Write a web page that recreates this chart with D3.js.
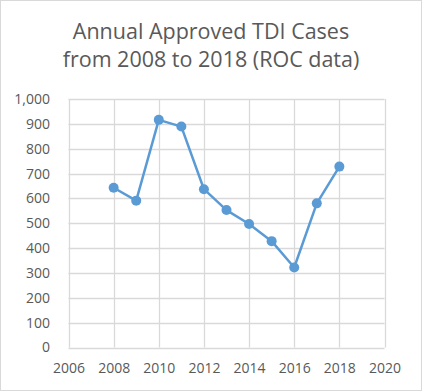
<!DOCTYPE html>
<html><head><meta charset="utf-8">
<script src="https://cdn.jsdelivr.net/npm/d3@7"></script>
<style>html,body{margin:0;padding:0;background:#fff}</style>
</head><body>
<script>
const years = [2008,2009,2010,2011,2012,2013,2014,2015,2016,2017,2018];
const cases = [643,591,916,889,637,553,497,428,322,580,728];
const xTicks = [2006,2008,2010,2012,2014,2016,2018,2020];
const yTicks = [0,100,200,300,400,500,600,700,800,900,1000];
const titleLines = ["Annual Approved TDI Cases","from 2008 to 2018 (ROC data)"];

const W=422,H=391;
const svg=d3.select("body").append("svg").attr("width",W).attr("height",H);
svg.append("rect").attr("x",0.5).attr("y",0.5).attr("width",W-1).attr("height",H-1)
  .attr("fill","#fff").attr("stroke","#d9d9d9");
const font="'Open Sans', sans-serif";
const x=d3.scaleLinear().domain([2006,2020]).range([68.5,384.5]);
const y=d3.scaleLinear().domain([0,1000]).range([347.5,99]);

svg.selectAll(".t").data(titleLines).join("text")
  .attr("x",211).attr("y",(d,i)=>39+i*28).attr("text-anchor","middle")
  .attr("font-family",font).attr("font-size",21.5).attr("fill","#595959").text(d=>d);

const g=svg.append("g");
g.selectAll(".hg").data(yTicks).join("line")
  .attr("x1",x(2006)).attr("x2",x(2020)).attr("y1",d=>Math.round(y(d))+0.5).attr("y2",d=>Math.round(y(d))+0.5)
  .attr("stroke","#d9d9d9").attr("stroke-width",1.3);
g.selectAll(".vg").data(xTicks).join("line")
  .attr("y1",y(0)).attr("y2",y(1000)).attr("x1",d=>Math.round(x(d))+0.5).attr("x2",d=>Math.round(x(d))+0.5)
  .attr("stroke","#d9d9d9").attr("stroke-width",1.3);

const fmt=d3.format(",");
const yAxis=d3.axisLeft(y).tickValues(yTicks).tickFormat(fmt).tickSize(0).tickPadding(18.5);
const ya=svg.append("g").attr("transform",`translate(${x(2006)},0)`).call(yAxis);
ya.select(".domain").remove();
ya.selectAll("text").attr("font-family",font).attr("font-size",14).attr("fill","#595959");
const xAxis=d3.axisBottom(x).tickValues(xTicks).tickFormat(d3.format("d")).tickSize(0).tickPadding(15.5);
const xa=svg.append("g").attr("transform",`translate(0,${y(0)})`).call(xAxis);
xa.select(".domain").remove();
xa.selectAll("text").attr("font-family",font).attr("font-size",14).attr("fill","#595959");

const line=d3.line().x((d,i)=>x(years[i])).y(d=>y(d));
svg.append("path").datum(cases).attr("d",line).attr("fill","none")
  .attr("stroke","#5b9bd5").attr("stroke-width",2.5).attr("stroke-linejoin","round");
svg.selectAll(".pt").data(cases).join("circle")
  .attr("cx",(d,i)=>x(years[i])).attr("cy",d=>y(d)).attr("r",5).attr("fill","#5b9bd5");
</script>
</body></html>
